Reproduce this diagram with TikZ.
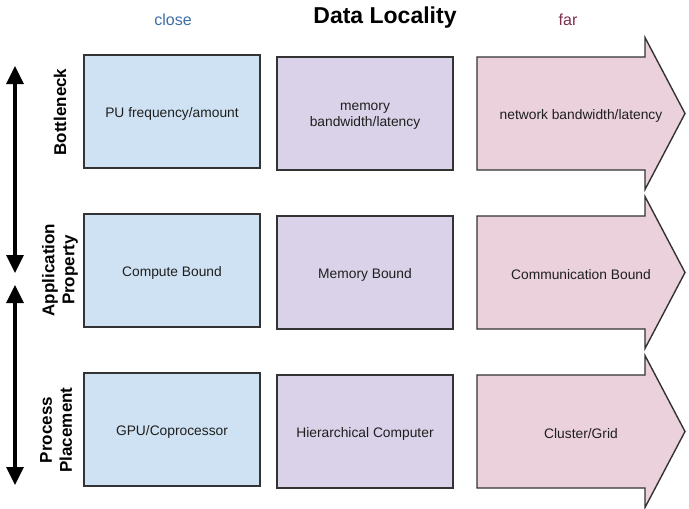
\documentclass[tikz,border=0pt]{standalone}
\usepackage{fontspec}
\setmainfont{Liberation Sans}
\usetikzlibrary{arrows.meta}
\begin{document}
\begin{tikzpicture}[x=1pt,y=-1pt,
  box/.style={draw=black!80,line width=1.4pt},
  bluefill/.style={box,fill=cBlue},
  purplefill/.style={box,fill=cPurple},
  pinkfill/.style={box,fill=cPink},
  celltext/.style={font=\fontsize{13.8}{16.5}\selectfont,align=center,text=black!88},
  rowlabel/.style={font=\fontsize{17}{20}\selectfont\bfseries,align=center,rotate=90},
  dblarrow/.style={line width=3.2pt,{Triangle[width=17pt,length=18pt]}-{Triangle[width=17pt,length=18pt]}}
]
\useasboundingbox (0,0) rectangle (689,509);
\definecolor{cBlue}{HTML}{CFE2F3}
\definecolor{cPurple}{HTML}{D9D2E9}
\definecolor{cPink}{HTML}{EAD1DC}
\definecolor{cClose}{HTML}{3D6FA5}
\definecolor{cFar}{HTML}{7F2E4F}

% header
\node[font=\fontsize{16}{19}\selectfont,text=cClose] (close) at (173,20) {close};
\node[font=\fontsize{23}{27}\selectfont\bfseries] (title) at (385,18) {Data Locality};
\node[font=\fontsize{16}{19}\selectfont,text=cFar] (far) at (568,20) {far};

% rows: top y of blue box
\foreach \yb/\ya/\lblA/\lblB/\lblC [count=\i] in
  {55/57/{PU frequency/amount}/{memory\\bandwidth/latency}/{network bandwidth/latency},
   214/216/{Compute Bound}/{Memory Bound}/{Communication Bound},
   373/375/{GPU/Coprocessor}/{Hierarchical Computer}/{Cluster/Grid}}{
  \draw[bluefill] (84,\yb) rectangle (260,\yb+113);
  \node[celltext] (b\i) at (172,\yb+59) {\lblA};
  \draw[purplefill] (277,\ya) rectangle (453,\ya+113);
  \node[celltext] (p\i) at (365,\ya+59) {\lblB};
  \draw[pinkfill,line join=miter] (477,\ya) -- (645,\ya) -- (645,\ya-19.5) -- (685,\ya+56.5)
     -- (645,\ya+132.5) -- (645,\ya+113) -- (477,\ya+113) -- cycle;
  \node[celltext] (r\i) at (581,\ya+59) {\lblC};
}

% row labels
\node[rowlabel] (l1) at (60,112) {Bottleneck};
\node[rowlabel] (l2) at (60,270) {Application\\Property};
\node[rowlabel] (l3) at (56,430) {Process\\Placement};

% left double arrows
\coordinate (a1t) at (15,66);
\coordinate (a1b) at (15,273);
\coordinate (a2t) at (15,285);
\coordinate (a2b) at (15,485);
\draw[dblarrow] (a1t) -- (a1b);
\draw[dblarrow] (a2t) -- (a2b);
\end{tikzpicture}
\end{document}
